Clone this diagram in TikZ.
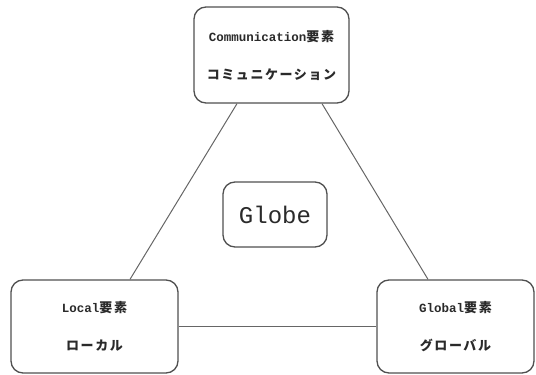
\documentclass[tikz,border=0pt]{standalone}
\usepackage{fontspec}
\setmainfont{Liberation Mono}
\newfontfamily\jp{Noto Sans CJK JP Medium}[LetterSpace=12]
\usetikzlibrary{calc}
\definecolor{boxc}{HTML}{505050}
\definecolor{linec}{HTML}{666666}
\definecolor{txt}{HTML}{2A2A2A}
\begin{document}
\begin{tikzpicture}[x=1pt,y=-1pt,
  box/.style={draw=boxc,line width=1.3pt,rounded corners=12pt,fill=white,
    align=center,text=txt,inner sep=0pt,
    font=\fontsize{12.5}{38}\selectfont\bfseries},
  conn/.style={draw=linec,line width=1pt}]
\useasboundingbox (0,0) rectangle (536,375);
\node[box,minimum width=155pt,minimum height=96pt] (top) at (271.5,55)
  {Communication{\jp\fontsize{13}{38}\selectfont 要素}\\{\jp\fontsize{13}{38}\selectfont コミュニケーション}};
\node[box,minimum width=167pt,minimum height=93pt] (local) at (94.5,326.5)
  {Local{\jp\fontsize{13}{38}\selectfont 要素}\\{\jp\fontsize{13}{38}\selectfont ローカル}};
\node[box,minimum width=157pt,minimum height=93pt] (global) at (455.5,326.5)
  {Global{\jp\fontsize{13}{38}\selectfont 要素}\\{\jp\fontsize{13}{38}\selectfont グローバル}};
\node[box,minimum width=104pt,minimum height=65pt,font=\fontsize{24}{28}\selectfont] (globe) at (275,214.5) {Globe};
\coordinate (t1) at ($(top.south)+(-34.5,0)$);
\coordinate (t2) at ($(top.south)+(50.5,0)$);
\coordinate (l1) at ($(local.north)+(35.5,0)$);
\coordinate (g1) at ($(global.north)+(-27.5,0)$);
\draw[conn] (t1) -- (l1);
\draw[conn] (t2) -- (g1);
\draw[conn] (local.east) -- (global.west);
\end{tikzpicture}
\end{document}
